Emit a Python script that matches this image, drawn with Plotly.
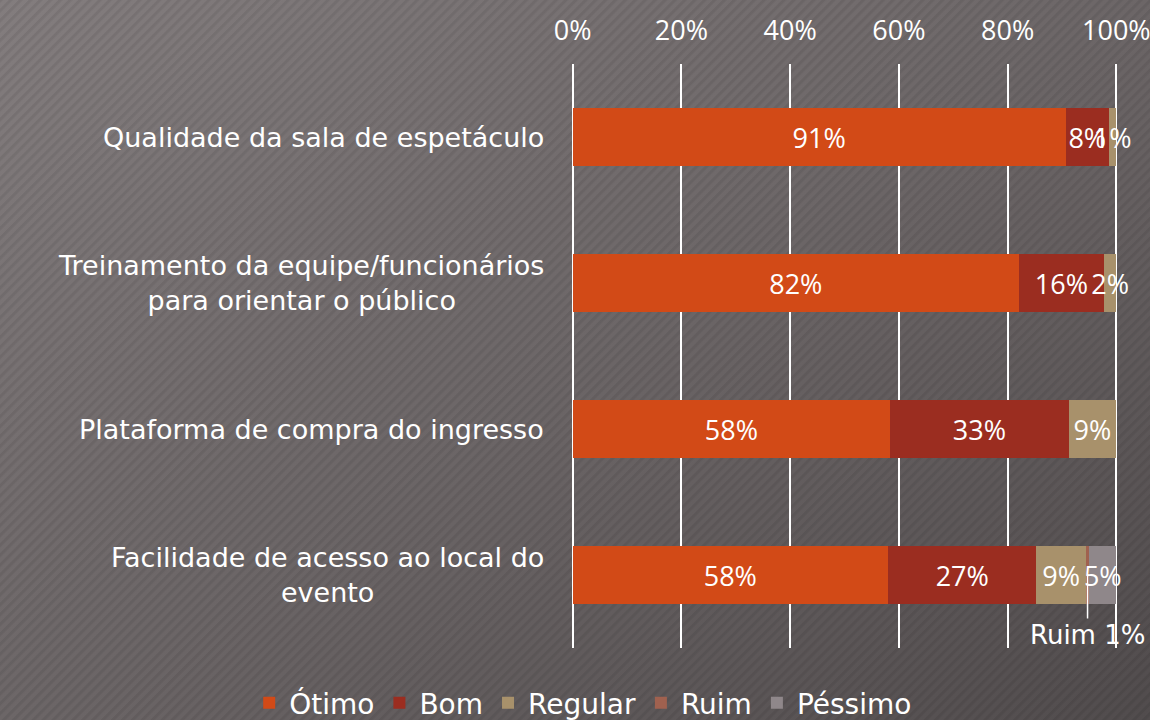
import base64
import plotly.graph_objects as go

categories = [
    "Qualidade da sala de espetáculo",
    "Treinamento da equipe/funcionários<br>para orientar o público",
    "Plataforma de compra do ingresso",
    "Facilidade de acesso ao local do<br>evento",
]
series_names = ["Ótimo", "Bom", "Regular", "Ruim", "Péssimo"]
otimo = [90.7, 82.1, 58.4, 58.0]
bom = [7.9, 15.6, 32.8, 27.3]
regular = [1.4, 2.3, 8.8, 9.1]
ruim = [0.0, 0.0, 0.0, 0.6]
pessimo = [0.0, 0.0, 0.0, 5.0]
tick_vals = [0, 20, 40, 60, 80, 100]
tick_text = ["0%", "20%", "40%", "60%", "80%", "100%"]

colors = ["#D24A17", "#9B2D20", "#A8916B", "#A0614F", "#8F878A"]
series_values = [otimo, bom, regular, ruim, pessimo]

W, H = 1150, 720
x0px, x100px = 573, 1116
pxper = (x100px - x0px) / 100.0
PAD = 0.3
L = x0px - PAD * pxper
R = W - (x100px + PAD * pxper)
T, B = 64, 72
pw, ph = W - L - R, H - T - B
NUMFONT = "Open Sans"
TXTFONT = "DejaVu Sans"

svg = f'''<svg xmlns="http://www.w3.org/2000/svg" width="{W}" height="{H}">
<defs>
<linearGradient id="g" x1="0" y1="0" x2="1" y2="1">
<stop offset="0" stop-color="#837d7e"/>
<stop offset="0.5" stop-color="#6c6667"/>
<stop offset="1" stop-color="#514c4d"/>
</linearGradient>
<pattern id="p" width="7" height="7" patternUnits="userSpaceOnUse" patternTransform="rotate(45)">
<rect width="3" height="7" fill="#000" fill-opacity="0.07"/>
</pattern>
</defs>
<rect width="{W}" height="{H}" fill="url(#g)"/>
<rect width="{W}" height="{H}" fill="url(#p)"/>
</svg>'''
src = "data:image/svg+xml;base64," + base64.b64encode(svg.encode()).decode()

fig = go.Figure()
for name, vals, col in zip(series_names, series_values, colors):
    texts = []
    for v in vals:
        if name == "Ruim" or v <= 0:
            texts.append("")
        else:
            texts.append(f"{round(v)}%")
    fig.add_trace(go.Bar(
        y=categories, x=vals, name=name, orientation="h",
        marker=dict(color=col, line=dict(width=0)),
        text=texts, textposition="inside", textangle=0,
        constraintext="none", insidetextanchor="middle",
        insidetextfont=dict(color="white", size=27, family=NUMFONT),
        cliponaxis=False,
        hoverinfo="skip",
    ))

# category labels as centered multi-line annotations
for c in categories:
    fig.add_annotation(
        x=0, xref="x", y=c, yref="y", text=c, showarrow=False,
        xanchor="right", xshift=-27, align="center",
        font=dict(color="white", size=27, family=TXTFONT),
    )

# Ruim label with leader line
ruim_start = otimo[3] + bom[3] + regular[3]
fig.add_annotation(
    x=ruim_start + ruim[3] / 2, y=categories[3], xref="x", yref="y",
    text=f"Ruim {round(ruim[3])}%", showarrow=True, arrowhead=0,
    arrowcolor="white", arrowwidth=1.5, ax=0, ay=60,
    font=dict(color="white", size=26, family=TXTFONT),
    yanchor="middle",
)

fig.update_layout(
    width=W, height=H,
    margin=dict(l=L, r=R, t=T, b=B, autoexpand=False),
    barmode="stack", bargap=0.6,
    paper_bgcolor="#6a6465", plot_bgcolor="rgba(0,0,0,0)",
    font=dict(family=TXTFONT, color="white"),
    images=[dict(source=src, xref="paper", yref="paper",
                 x=-L / pw, y=1 + T / ph, sizex=W / pw, sizey=H / ph,
                 xanchor="left", yanchor="top", sizing="stretch",
                 layer="below")],
    xaxis=dict(range=[-PAD, 100 + PAD], side="top", tickvals=tick_vals,
               ticktext=tick_text, showgrid=True, gridcolor="white",
               gridwidth=2, zeroline=False, showline=False,
               ticks="outside", ticklen=12, tickcolor="rgba(0,0,0,0)",
               tickfont=dict(size=27, color="white", family=NUMFONT),
               ticklabeloverflow="allow",
               fixedrange=True),
    yaxis=dict(autorange="reversed", showticklabels=False,
               showgrid=False, zeroline=False, showline=False),
    legend=dict(orientation="h", x=(250 - L) / pw, xanchor="left",
                y=-(703 - (T + ph)) / ph, yanchor="middle",
                font=dict(size=28, color="white", family=TXTFONT),
                bgcolor="rgba(0,0,0,0)", traceorder="normal",
                itemwidth=30),
    showlegend=True,
)

fig.write_html(
    "out.html",
    config={"displayModeBar": False},
    post_script="document.body.style.margin='0';document.body.style.overflow='hidden';",
)
